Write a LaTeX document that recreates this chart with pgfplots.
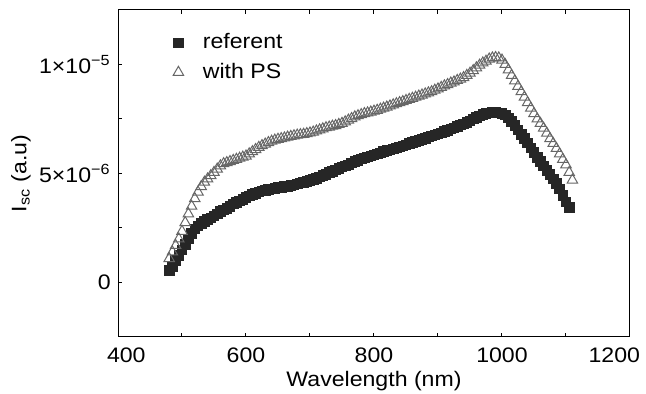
\documentclass[border=0pt]{standalone}
\usepackage{pgfplots}
\pgfplotsset{compat=1.18}
\usepackage{pgfplotstable}
\usepackage{fontspec}
\setmainfont{Liberation Sans}[FakeStretch=1.1]

\pgfplotstableread{
x y
480 0.55
485 0.75
490 1.0
495 1.25
500 1.5
505 1.75
510 2.0
515 2.25
520 2.45
525 2.6
530 2.7
535 2.8
540 2.9
545 2.97
550 3.05
555 3.15
560 3.25
565 3.33
570 3.4
575 3.5
580 3.6
585 3.68
590 3.75
595 3.82
600 3.9
605 3.97
610 4.05
615 4.1
620 4.15
625 4.2
630 4.23
635 4.27
640 4.3
645 4.32
650 4.35
655 4.37
660 4.4
665 4.42
670 4.45
675 4.48
680 4.52
685 4.56
690 4.6
695 4.64
700 4.68
705 4.73
710 4.78
715 4.84
720 4.9
725 4.97
730 5.04
735 5.1
740 5.17
745 5.24
750 5.3
755 5.35
760 5.4
765 5.48
770 5.55
775 5.6
780 5.67
785 5.72
790 5.77
795 5.8
800 5.85
805 5.9
810 5.95
815 6.0
820 6.05
825 6.08
830 6.13
835 6.18
840 6.22
845 6.27
850 6.32
855 6.37
860 6.42
865 6.47
870 6.52
875 6.57
880 6.62
885 6.67
890 6.72
895 6.77
900 6.82
905 6.87
910 6.93
915 6.98
920 7.04
925 7.1
930 7.16
935 7.22
940 7.28
945 7.35
950 7.42
955 7.5
960 7.58
965 7.65
970 7.7
975 7.75
980 7.78
985 7.8
990 7.8
995 7.78
1000 7.75
1005 7.68
1010 7.55
1015 7.38
1020 7.2
1025 7.0
1030 6.8
1035 6.6
1040 6.4
1045 6.18
1050 5.97
1055 5.75
1060 5.55
1065 5.35
1070 5.15
1075 4.95
1080 4.75
1085 4.55
1090 4.3
1095 4.0
1100 3.7
1105 3.45
}\referent

\pgfplotstableread{
x y
480 1.1
485 1.4
490 1.7
495 2.0
500 2.35
505 2.75
510 3.15
515 3.5
520 3.85
525 4.15
530 4.4
535 4.6
540 4.75
545 4.9
550 5.05
555 5.2
560 5.35
565 5.45
570 5.5
575 5.55
580 5.6
585 5.65
590 5.7
595 5.75
600 5.8
605 5.9
610 6.0
615 6.1
620 6.2
625 6.28
630 6.35
635 6.42
640 6.48
645 6.53
650 6.57
655 6.6
660 6.63
665 6.67
670 6.7
675 6.73
680 6.76
685 6.78
690 6.8
695 6.83
700 6.86
705 6.9
710 6.95
715 7.0
720 7.05
725 7.1
730 7.13
735 7.17
740 7.2
745 7.25
750 7.3
755 7.37
760 7.45
765 7.52
770 7.6
775 7.65
780 7.7
785 7.75
790 7.78
795 7.82
800 7.86
805 7.9
810 7.95
815 8.0
820 8.05
825 8.1
830 8.15
835 8.2
840 8.25
845 8.3
850 8.35
855 8.4
860 8.45
865 8.5
870 8.55
875 8.6
880 8.65
885 8.7
890 8.75
895 8.82
900 8.88
905 8.95
910 9.02
915 9.08
920 9.15
925 9.2
930 9.27
935 9.33
940 9.4
945 9.5
950 9.6
955 9.72
960 9.85
965 9.97
970 10.07
975 10.15
980 10.25
985 10.3
990 10.32
995 10.3
1000 10.2
1005 10.0
1010 9.75
1015 9.5
1020 9.25
1025 9.0
1030 8.75
1035 8.5
1040 8.25
1045 8.0
1050 7.75
1055 7.5
1060 7.3
1065 7.08
1070 6.85
1075 6.6
1080 6.38
1085 6.15
1090 5.9
1095 5.65
1100 5.4
1105 5.05
1110 4.7
}\withps

\begin{document}
\fontsize{10.5}{12.6}\selectfont
\begin{tikzpicture}
\begin{axis}[
  name=ax,
  scale only axis,
  width=256pt, height=163.5pt,
  xmin=400, xmax=1200,
  ymin=-2.5, ymax=12.5,
  xtick={400,600,800,1000,1200},
  xticklabels={\makebox[0pt][l]{\hspace{-5.5pt}400}, 600, 800, 1000, \makebox[0pt][r]{1200\hspace{-5pt}}},
  minor x tick num=1,
  ytick={0,5,10},
  yticklabels={0, 5×10\textsuperscript{−6}, 1×10\textsuperscript{−5}},
  minor y tick num=1,
  xtick pos=both, ytick pos=left,
  tick align=inside,
  major tick length=2.2pt, minor tick length=2.2pt,
  axis line style={line width=0.5pt},
  every tick/.style={line width=0.5pt, black},
  xticklabel style={yshift=-1.5pt},
  /pgf/number format/assume math mode=true,
  /pgf/number format/1000 sep={},
  xlabel={Wavelength (nm)},
  xlabel style={yshift=2.5pt},
  ylabel={I\textsubscript{sc} (a.u)},
  ylabel shift=-3pt,
  legend image code/.code={\path (0pt,0pt) (15pt,0pt);
    \draw[mark repeat=2,mark phase=2,#1] plot coordinates {(0pt,0pt) (5pt,0pt) (15pt,0pt)};},
  legend style={at={(0.085,0.953)}, anchor=north west, draw=none, fill=none,
    row sep=1.5pt, nodes={inner sep=2pt}},
  legend cell align=left,
]
\addplot[only marks, mark=square*, mark size=2.4pt, draw=black!85, fill=black!85]
  table[x=x,y=y] {\referent};
\addlegendentry{referent}
\addplot[only marks, mark=triangle, mark size=3pt, draw=black!60, line width=0.5pt]
  table[x=x,y=y] {\withps};
\addlegendentry{with PS}
\end{axis}
\pgfresetboundingbox
\path[use as bounding box] ([xshift=-59pt,yshift=-28.5pt]ax.south west) rectangle ([xshift=8pt,yshift=5pt]ax.north east);
\end{tikzpicture}
\end{document}
